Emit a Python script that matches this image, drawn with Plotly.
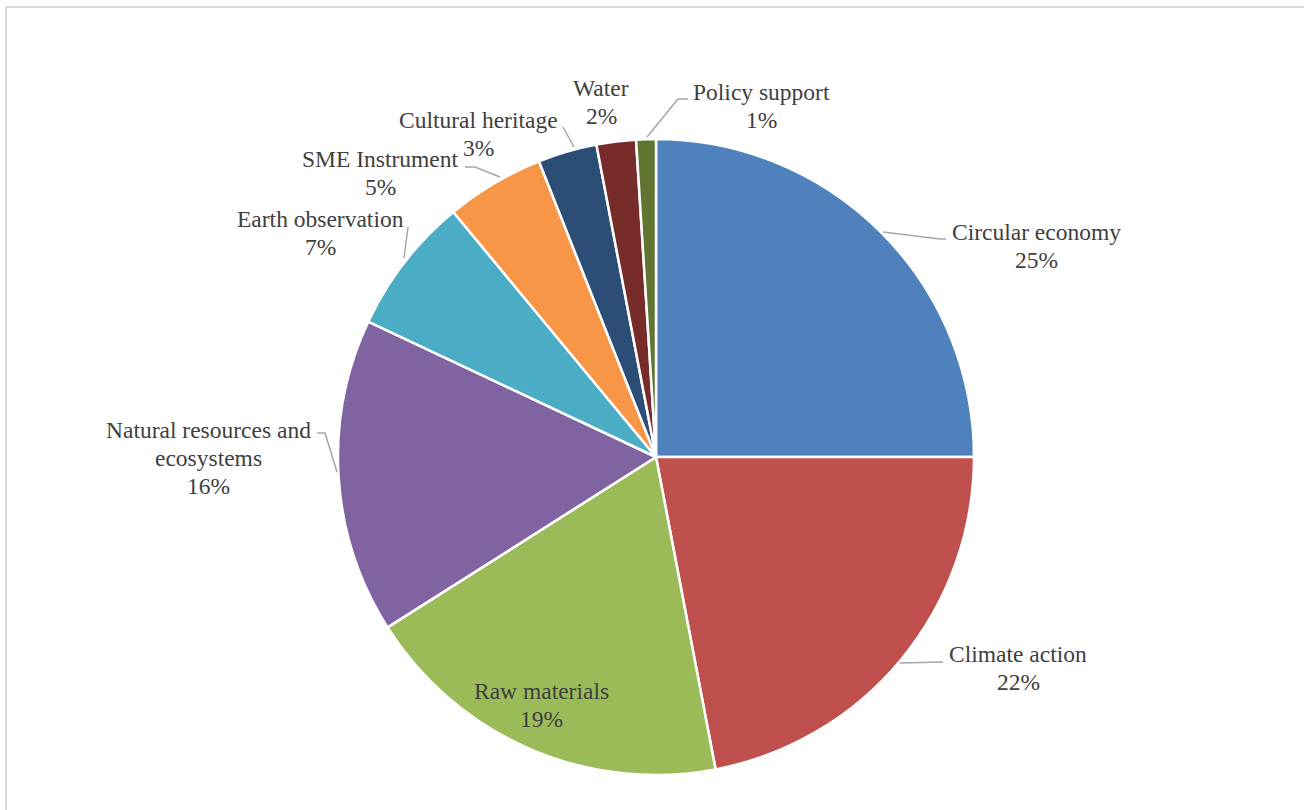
import plotly.graph_objects as go

# Funding share by topic (percent)
categories = [
    "Circular economy",
    "Climate action",
    "Raw materials",
    "Natural resources and ecosystems",
    "Earth observation",
    "SME Instrument",
    "Cultural heritage",
    "Water",
    "Policy support",
]
values = [25, 22, 19, 16, 7, 5, 3, 2, 1]
colors = ["#4F81BD", "#C0504D", "#9BBB59", "#8064A2", "#4BACC6",
          "#F79646", "#2C4D75", "#772C2A", "#5F7530"]

# Category name lines as they are wrapped on the chart
label_lines = [
    ["Circular economy"],
    ["Climate action"],
    ["Raw materials"],
    ["Natural resources and", "ecosystems"],
    ["Earth observation"],
    ["SME Instrument"],
    ["Cultural heritage"],
    ["Water"],
    ["Policy support"],
]

W, H = 1304, 810
CX, CY, R = 656, 457, 318
FONT = "Liberation Serif"
FONT_SIZE = 23.5
LINE_GAP = 28

# Label placement (pixel centre of the text block)
label_pos = [
    (1036, 246), (1018, 668), (541, 705), (208, 458), (320, 233),
    (380, 173), (478, 134), (601, 102), (761, 106),
]

# Leader lines (pixel polylines from slice edge to label)
leaders = [
    [(883, 232), (940, 239), (946, 239)],
    [(900, 663), (943, 662)],
    None,
    [(317, 433), (325, 433), (337, 472)],
    [(408, 227), (404, 258)],
    [(465, 167), (475, 167), (500, 177)],
    [(563, 127), (574, 147)],
    None,
    [(688, 99), (678, 99), (647, 137)],
]


def to_paper(x, y):
    return x / W, 1 - y / H


total = sum(values)

fig = go.Figure(
    go.Pie(
        labels=categories,
        values=values,
        sort=False,
        direction="clockwise",
        rotation=0,
        marker=dict(colors=colors, line=dict(color="white", width=2.5)),
        textinfo="none",
        hoverinfo="label+percent",
        domain=dict(x=[(CX - R) / W, (CX + R) / W],
                    y=[1 - (CY + R) / H, 1 - (CY - R) / H]),
        showlegend=False,
    )
)

annotations = []
for lines, v, (lx, ly) in zip(label_lines, values, label_pos):
    rows = lines + [f"{round(v / total * 100)}%"]
    top = ly - LINE_GAP * (len(rows) - 1) / 2
    for k, row in enumerate(rows):
        px, py = to_paper(lx, top + k * LINE_GAP)
        annotations.append(dict(
            x=px, y=py, xref="paper", yref="paper", text=row,
            showarrow=False, xanchor="center", yanchor="middle",
            font=dict(family=FONT, size=FONT_SIZE, color="#404040"),
        ))

shapes = []
for pts in leaders:
    if not pts:
        continue
    path = "M " + " L ".join(
        f"{to_paper(x, y)[0]:.5f},{to_paper(x, y)[1]:.5f}" for x, y in pts)
    shapes.append(dict(type="path", path=path, xref="paper", yref="paper",
                       line=dict(color="#A6A6A6", width=1.5)))

# Chart-area frame (top and left edges)
fx, fy = to_paper(6, 7)
shapes.append(dict(type="line", xref="paper", yref="paper",
                   x0=fx, y0=fy, x1=1, y1=fy,
                   line=dict(color="#D9D9D9", width=2)))
shapes.append(dict(type="line", xref="paper", yref="paper",
                   x0=fx, y0=fy, x1=fx, y1=0,
                   line=dict(color="#D9D9D9", width=2)))

fig.update_layout(
    width=W, height=H,
    margin=dict(l=0, r=0, t=0, b=0),
    paper_bgcolor="white", plot_bgcolor="white",
    font=dict(family=FONT),
    annotations=annotations, shapes=shapes,
)

fig.write_html("out.html")
